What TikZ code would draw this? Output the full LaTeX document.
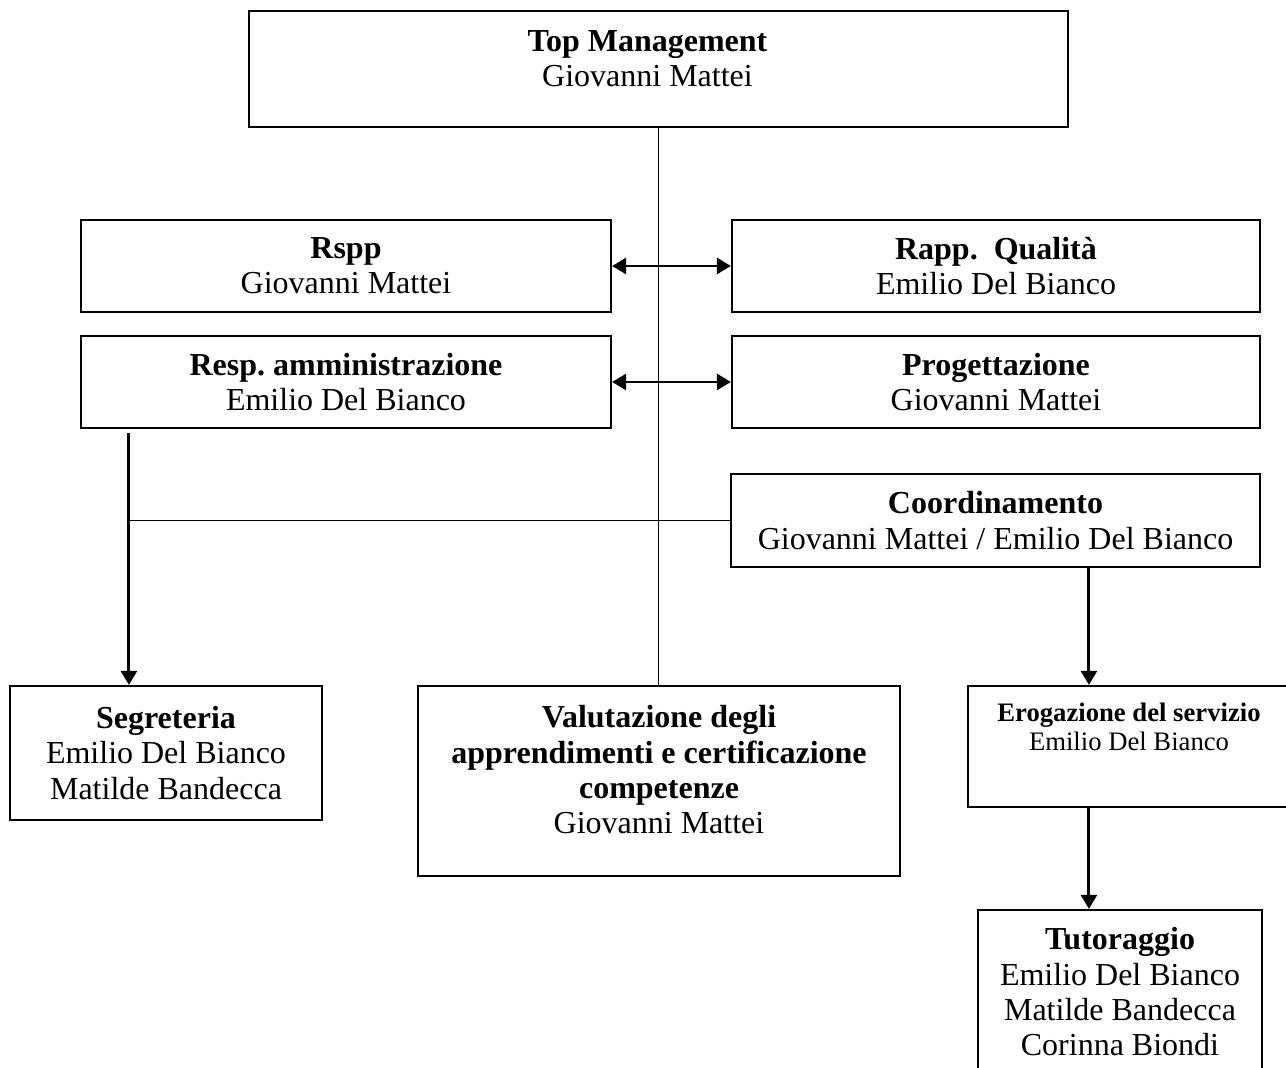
\documentclass[tikz,border=0pt]{standalone}
\usepackage{fontspec}
\setmainfont{Liberation Serif}
\usetikzlibrary{arrows.meta}
\newcommand{\pxu}{0.375pt}
\newcommand{\lowstrut}[1]{\rule[-#1]{0pt}{#1}}

\begin{document}
\begin{tikzpicture}
[x=\pxu, y=-\pxu,
 boxdecorate/.style 2 args={draw, line width=0.8pt, align=center, inner sep=0pt,
   minimum width=#1*\pxu, minimum height=#2*\pxu,
   font=\fontsize{12}{13.2}\selectfont},
 linedecorate/.style={-, line width=0.7pt},
 arrowdecorate/.style={-{Triangle[length=5.3pt,width=6pt]}, line width=1.1pt},
 twowaydecorate/.style={{Triangle[length=5.3pt,width=6pt]}-{Triangle[length=5.3pt,width=6pt]}, line width=1.1pt}]
%% page
\useasboundingbox (0,0) rectangle (1286,1068);
%% nodes or vertices
\node (top) at (658.5,69) [boxdecorate={819}{116}]
  {\textbf{Top Management}\rule{8.25pt}{0pt}\\Giovanni Mattei\rule{8.25pt}{0pt}\lowstrut{8pt}};
\node (rspp) at (346,266) [boxdecorate={530}{92}] {\textbf{Rspp}\\Giovanni Mattei};
\node (rapp) at (996,266) [boxdecorate={528}{92}] {\textbf{Rapp.~~Qualità}\\Emilio Del Bianco};
\node (resp) at (346,382) [boxdecorate={530}{92}] {\textbf{Resp.\ amministrazione}\\Emilio Del Bianco};
\node (prog) at (996,382) [boxdecorate={528}{92}] {\textbf{Progettazione}\\Giovanni Mattei};
\node (coord) at (995.5,520.5) [boxdecorate={529}{93}]
  {\textbf{Coordinamento}\\Giovanni Mattei / Emilio Del Bianco};
\node (segr) at (166,753) [boxdecorate={312}{134}]
  {\textbf{Segreteria}\\Emilio Del Bianco\\Matilde Bandecca};
\node (valu) at (659,781) [boxdecorate={482}{190}]
  {\textbf{Valutazione degli}\\\textbf{apprendimenti e certificazione}\\\textbf{competenze}\\Giovanni Mattei\lowstrut{8.5pt}};
\node (erog) at (1129,746.5) [boxdecorate={322}{121}, font=\fontsize{10}{11}\selectfont]
  {\textbf{Erogazione del servizio}\\Emilio Del Bianco\lowstrut{14.9pt}};
\node (tuto) at (1120,991.7) [boxdecorate={284}{163.4}]
  {\textbf{Tutoraggio}\\Emilio Del Bianco\\Matilde Bandecca\\Corinna Biondi};
%% edges or lines
\coordinate (adminfoot) at ([shift={(49,4)}]resp.south west);
\coordinate (servline) at ([shift={(359,0)}]coord.south west);
\draw[linedecorate] (top.south) -- (top.south |- valu.north);
\draw[linedecorate] (coord.west) -- (coord.west -| adminfoot);
\draw[arrowdecorate] (adminfoot) -- (adminfoot |- segr.north);
\draw[arrowdecorate] (servline) -- (servline |- erog.north);
\draw[arrowdecorate] (servline |- erog.south) -- (servline |- tuto.north);
\path
\foreach \startnode/\endnode in {rspp/rapp, resp/prog} {
  (\startnode) edge[twowaydecorate] (\endnode)
};
\end{tikzpicture}
\end{document}
